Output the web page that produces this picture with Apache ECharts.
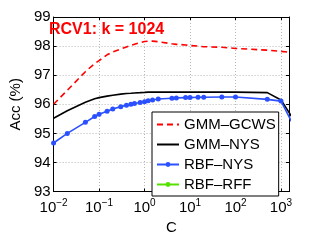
<!DOCTYPE html>
<html><head><meta charset="utf-8">
<script src="https://cdn.jsdelivr.net/npm/echarts@6/dist/echarts.min.js"></script>
<style>html,body{margin:0;padding:0;background:#fff}#c{width:319px;height:240px}</style>
</head><body><div id="c"></div>
<script>
const cValues   = [0.01, 0.02, 0.05, 0.08, 0.1, 0.15, 0.2, 0.3, 0.4, 0.5, 0.6, 0.8, 1, 1.2, 1.5, 2, 4, 5, 8, 10, 15, 20, 50, 100, 500, 1000, 2000];
const gcwsAcc   = [96.0, 96.48, 97.12, 97.4, 97.5, 97.7, 97.8, 97.9, 97.97, 98.02, 98.06, 98.12, 98.16, 98.17, 98.17, 98.15, 98.08, 98.06, 98.04, 98.02, 98.0, 97.98, 97.96, 97.92, 97.86, 97.82, 97.77];
const gmmNysAcc = [95.52, 95.78, 96.07, 96.19, 96.23, 96.28, 96.31, 96.35, 96.37, 96.38, 96.39, 96.4, 96.41, 96.42, 96.42, 96.42, 96.42, 96.42, 96.42, 96.42, 96.42, 96.42, 96.42, 96.42, 96.4, 96.15, 95.42];
const rbfNysAcc = [94.67, 95.0, 95.38, 95.58, 95.66, 95.76, 95.84, 95.92, 95.97, 96.0, 96.03, 96.06, 96.09, 96.12, 96.15, 96.18, 96.21, 96.22, 96.23, 96.23, 96.24, 96.24, 96.25, 96.25, 96.17, 96.11, 95.2];
const rbfRffAcc = [];
const seriesNames = ['GMM–GCWS', 'GMM–NYS', 'RBF–NYS', 'RBF–RFF'];
const titleText = 'RCV1: k = 1024';
const xMin = 0.01, xMax = 1500;
const yMin = 93, yMax = 99, yStep = 1;

const pairs = acc => acc.map((v, i) => [cValues[i], v]);
const FONT = '"Liberation Sans", Arial, Helvetica, sans-serif';

function expLabel(v) {
  const l = Math.log10(v);
  const e = Math.round(l);
  if (Math.abs(l - e) > 1e-6) return '';
  return '{b|10}{s|' + (e < 0 ? '\u2212' + (-e) : String(e)) + '}';
}

const hidden = {color: 'rgba(0,0,0,0)', borderWidth: 0};
const chart = echarts.init(document.getElementById('c'), null, {renderer: 'canvas'});
chart.setOption({
  animation: false,
  backgroundColor: '#fff',
  textStyle: {fontFamily: FONT},
  title: {
    text: titleText, left: 49, top: 22, padding: 0,
    textStyle: {color: '#ff0000', fontSize: 16, fontWeight: 'bold', fontFamily: FONT}
  },
  grid: {left: 42, right: 30, top: 17, bottom: 40},
  legend: {
    orient: 'vertical', left: 152, top: 112,
    padding: [5, 3, 4, 4], itemGap: 5, itemWidth: 22, itemHeight: 6,
    borderColor: '#000', borderWidth: 1, backgroundColor: '#fff',
    textStyle: {fontSize: 15, color: '#000', fontFamily: FONT},
    data: [
      {name: seriesNames[0], itemStyle: hidden},
      {name: seriesNames[1], itemStyle: hidden},
      {name: seriesNames[2]},
      {name: seriesNames[3]}
    ]
  },
  xAxis: [{
    type: 'log', logBase: 10, min: xMin, max: xMax, interval: 1,
    name: 'C', nameLocation: 'middle', nameGap: 21,
    nameTextStyle: {fontSize: 15, color: '#000', fontFamily: FONT},
    axisLine: {lineStyle: {color: '#000', width: 1}},
    axisTick: {show: true, inside: true, length: 3, lineStyle: {color: '#000'}},
    splitLine: {show: true, lineStyle: {color: '#b8b8b8', type: [1, 2], width: 1}},
    axisLabel: {
      margin: 7, formatter: expLabel, color: '#000',
      showMinLabel: true, showMaxLabel: true,
      rich: {
        b: {fontSize: 15, lineHeight: 18, color: '#000', fontFamily: FONT},
        s: {fontSize: 10, lineHeight: 8, verticalAlign: 'top', color: '#000', fontFamily: FONT}
      }
    }
  }, {
    type: 'log', logBase: 10, min: xMin, max: xMax, interval: 1, position: 'top',
    axisLine: {lineStyle: {color: '#000', width: 1}},
    axisTick: {show: true, inside: true, length: 3, lineStyle: {color: '#000'}},
    axisLabel: {show: false}, splitLine: {show: false}
  }],
  yAxis: [{
    type: 'value', min: yMin, max: yMax, interval: yStep,
    name: 'Acc (%)', nameLocation: 'middle', nameGap: 27, nameRotate: 90,
    nameTextStyle: {fontSize: 15, color: '#000', fontFamily: FONT},
    axisLine: {show: true, lineStyle: {color: '#000', width: 1}},
    axisTick: {show: true, inside: true, length: 3, lineStyle: {color: '#000'}},
    splitLine: {show: true, lineStyle: {color: '#b8b8b8', type: [1, 2], width: 1}},
    axisLabel: {margin: 3, fontSize: 15, color: '#000', fontFamily: FONT}
  }, {
    type: 'value', min: yMin, max: yMax, interval: yStep, position: 'right',
    axisLine: {show: true, lineStyle: {color: '#000', width: 1}},
    axisTick: {show: true, inside: true, length: 3, lineStyle: {color: '#000'}},
    axisLabel: {show: false}, splitLine: {show: false}
  }],
  series: [
    {name: seriesNames[0], type: 'line', data: pairs(gcwsAcc), symbol: 'none', clip: true,
     lineStyle: {color: '#ff0000', width: 1.6, type: [6, 4]}, itemStyle: {color: '#ff0000'}, z: 3},
    {name: seriesNames[1], type: 'line', data: pairs(gmmNysAcc), symbol: 'none', clip: true,
     lineStyle: {color: '#000', width: 1.6}, itemStyle: {color: '#000'}, z: 3},
    {name: seriesNames[2], type: 'line', data: pairs(rbfNysAcc), symbol: 'circle', symbolSize: 5, clip: true,
     lineStyle: {color: '#2a50ff', width: 1.6}, itemStyle: {color: '#2a50ff'}, z: 4},
    {name: seriesNames[3], type: 'line', data: rbfRffAcc, symbol: 'circle', symbolSize: 5, clip: true,
     lineStyle: {color: '#55e000', width: 1.6}, itemStyle: {color: '#55e000'}, z: 4}
  ]
});
</script></body></html>
